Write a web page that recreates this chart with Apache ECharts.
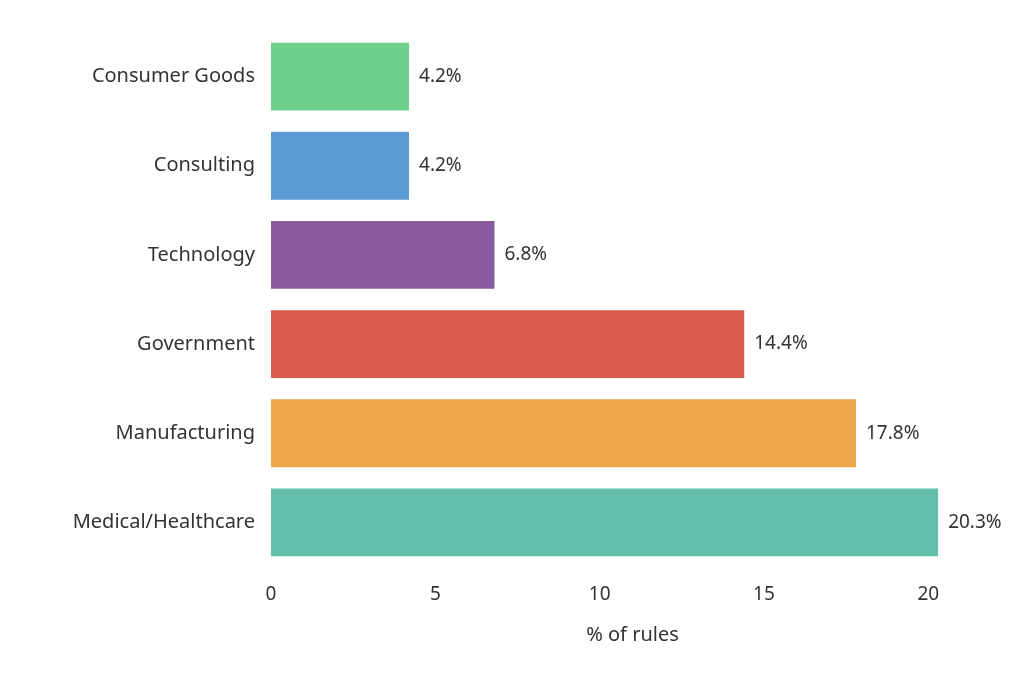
<!DOCTYPE html>
<html>
<head>
<meta charset="utf-8">
<script src="https://cdn.jsdelivr.net/npm/echarts@6/dist/echarts.min.js"></script>
<style>html,body{margin:0;background:#fff}#chart{width:1024px;height:683px}</style>
</head>
<body>
<div id="chart"></div>
<script>
// categories bottom to top
var industries = ['Medical/Healthcare', 'Manufacturing', 'Government', 'Technology', 'Consulting', 'Consumer Goods'];
var shares = [20.3, 17.8, 14.4, 6.8, 4.2, 4.2];
var barColors = ['#63bfac', '#eda54e', '#d95c4c', '#8b5a9e', '#5b9bd1', '#6fcf8c'];

var chart = echarts.init(document.getElementById('chart'));
chart.setOption({
    animation: false,
    textStyle: { fontFamily: 'Noto Sans' },
    grid: { left: 271, width: 723, top: 32, bottom: 116 },
    xAxis: {
        type: 'value', min: 0, max: 22, interval: 5,
        name: '% of rules', nameLocation: 'middle', nameGap: 58,
        nameTextStyle: { fontSize: 20, color: '#333' },
        axisLine: { show: false }, axisTick: { show: false }, splitLine: { show: false },
        axisLabel: { fontSize: 19, color: '#333', margin: 18, showMaxLabel: false }
    },
    yAxis: {
        type: 'category', data: industries,
        axisLine: { show: false }, axisTick: { show: false },
        axisLabel: { fontSize: 20, color: '#333', margin: 16 }
    },
    series: [{
        type: 'bar', barCategoryGap: '24%',
        data: shares.map(function (v, i) { return { value: v, itemStyle: { color: barColors[i] } }; }),
        label: { show: true, position: 'right', fontSize: 19, color: '#333', distance: 10,
            formatter: function (p) { return p.value.toFixed(1) + '%'; } }
    }]
});
</script>
</body>
</html>
